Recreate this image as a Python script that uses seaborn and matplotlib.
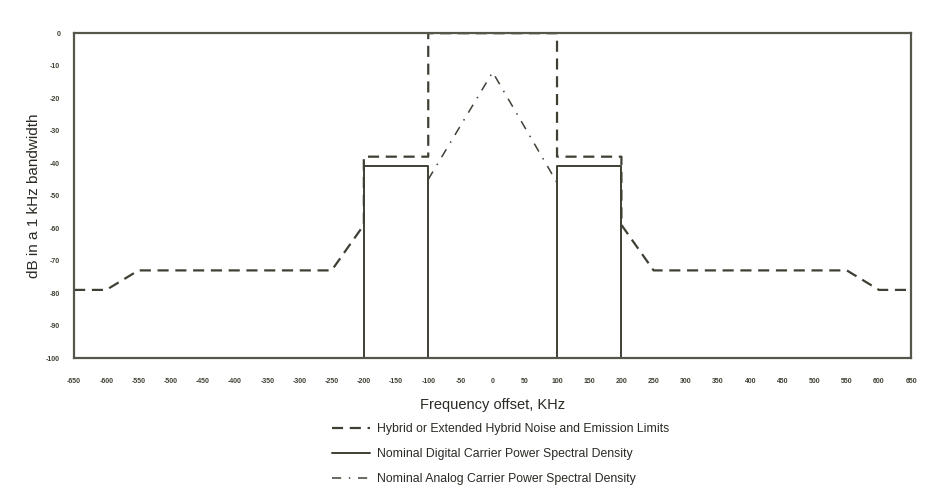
import seaborn as sns
import pandas as pd
import numpy as np
import matplotlib.pyplot as plt

sns.set_style("white")
plt.rcParams['font.family'] = ['Liberation Sans', 'DejaVu Sans']

# Hybrid / extended hybrid noise and emission limits (kHz, dB)
hybrid_x = [-650, -600, -550, -250, -200, -200, -100, -100, 100, 100, 200, 200, 250, 550, 600, 650]
hybrid_y = [-79, -79, -73, -73, -59, -38, -38, 0, 0, -38, -38, -59, -73, -73, -79, -79]

# Nominal digital carrier (two sidebands)
digital_lower_x = [-200, -200, -100, -100]
digital_lower_y = [-100, -41, -41, -100]
digital_upper_x = [100, 100, 200, 200]
digital_upper_y = [-100, -41, -41, -100]

# Nominal analog carrier
analog_x = [-100, 0, 100]
analog_y = [-45, -12, -46]

xticks = list(range(-650, 651, 50))
yticks = list(range(0, -101, -10))

ink = "#3f4034"

fig = plt.figure(figsize=(9.26, 5.03), dpi=100)
ax = fig.add_axes([0.080, 0.288, 0.904, 0.646])

df_h = pd.DataFrame({"f": hybrid_x, "db": hybrid_y})
sns.lineplot(data=df_h, x="f", y="db", sort=False, estimator=None, ax=ax,
             color=ink, lw=1.6, dashes=False, linestyle=(0, (5, 3)),
             label="Hybrid or Extended Hybrid Noise and Emission Limits")

for i, (xs, ys) in enumerate([(digital_lower_x, digital_lower_y),
                              (digital_upper_x, digital_upper_y)]):
    d = pd.DataFrame({"f": xs, "db": ys})
    sns.lineplot(data=d, x="f", y="db", sort=False, estimator=None, ax=ax,
                 color=ink, lw=1.4,
                 label="Nominal Digital Carrier Power Spectral Density" if i == 0 else None)

df_a = pd.DataFrame({"f": analog_x, "db": analog_y})
sns.lineplot(data=df_a, x="f", y="db", sort=False, estimator=None, ax=ax,
             color=ink, lw=1.1, linestyle=(0, (6, 5, 1, 5)),
             label="Nominal Analog Carrier Power Spectral Density")

ax.set_xlim(-650, 650)
ax.set_ylim(-100, 0)
ax.set_xticks(xticks)
ax.set_xticklabels([str(t) for t in xticks], fontsize=5, fontweight="bold", color=ink)
ax.set_yticks(yticks)
ax.set_yticklabels([str(t) for t in yticks], fontsize=5, fontweight="bold", color=ink)
ax.tick_params(axis="both", length=0)
ax.tick_params(axis="y", pad=10)
ax.tick_params(axis="x", pad=14)

for s in ax.spines.values():
    s.set_color("#55574a")
    s.set_linewidth(1.6)

ax.set_xlabel("Frequency offset, KHz", fontsize=10.5, color="#2a2a24", labelpad=10)
ax.set_ylabel("dB in a 1 kHz bandwidth", fontsize=11, color="#2a2a24", labelpad=4)

ax.legend(loc="upper left", bbox_to_anchor=(0.302, -0.185), frameon=False,
          fontsize=8.8, handlelength=3.1, labelspacing=1.05, handletextpad=0.6,
          labelcolor="#2a2a24", borderaxespad=0)

fig.savefig("out.png", dpi=100)
